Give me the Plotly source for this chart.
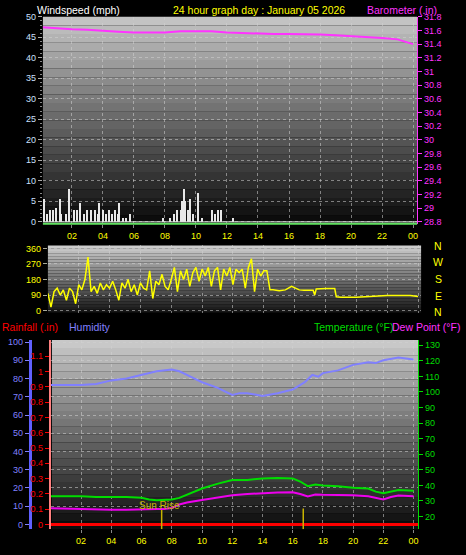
import plotly.graph_objects as go

W, H = 466, 555
def px(x): return x / W
def py(y): return 1 - y / H

hour_ticks = list(range(2, 25, 2))
hour_labels = ["02","04","06","08","10","12","14","16","18","20","22","00"]

wind_t = [0.2,0.4,0.6,0.8,1.0,1.2,1.3,1.6,1.8,2.1,2.3,2.5,2.8,3.0,3.2,3.5,3.7,3.75,4.0,4.2,4.4,4.6,4.8,5.0,5.05,5.3,5.5,5.75,7.9,8.3,8.6,8.8,9.0,9.1,9.2,9.3,9.5,9.6,9.8,10.1,10.4,11.0,11.2,11.4,11.6,12.4]
wind_v = [5.5,2,3,3,3.5,5.5,2,2,8,3,3,4.5,2,3,3,3,2,4.5,3,2,3,2,3,2,4.5,1,1,2,1,1,2,3,3,5,8,5,3,5.5,2,7,1,3,2,3,3,1]

baro_t = [0,1,2,3,4,5,6,7,7.5,8,9,10,11,12,13,14,15,16,17,18,19,20,21,22,23,23.5,24]
baro_v = [31.65,31.63,31.62,31.61,31.59,31.58,31.57,31.57,31.56,31.57,31.59,31.59,31.59,31.57,31.56,31.55,31.55,31.55,31.55,31.54,31.53,31.52,31.51,31.49,31.47,31.44,31.40]

dir_t = [0.0,0.2,0.4,0.6,0.8,1.0,1.2,1.4,1.6,1.8,2.0,2.2,2.4,2.6,2.8,3.0,3.2,3.4,3.6,3.8,4.0,4.2,4.4,4.6,4.8,5.0,5.2,5.4,5.6,5.8,6.0,6.2,6.4,6.6,6.8,7.0,7.2,7.4,7.6,7.8,8.0,8.2,8.4,8.6,8.8,9.0,9.2,9.4,9.6,9.8,10.0,10.2,10.4,10.6,10.8,11.0,11.2,11.4,11.6,11.8,12.0,12.2,12.4,12.6,12.8,13.0,13.2,13.4,13.6,13.8,14.0,14.2,14.4,14.6,15.0,15.4,15.8,16.0,16.3,16.6,17.0,17.2,17.3,17.4,18.0,18.6,18.7,19.0,20.0,20.5,21.0,22.0,23.0,23.5,24.0]
dir_v = [100,20,110,130,90,120,60,130,110,40,150,120,180,310,110,140,100,160,120,150,130,170,120,60,160,130,180,110,150,90,160,130,120,230,70,170,150,210,140,120,180,250,110,230,180,240,140,220,250,170,240,200,250,140,230,250,120,240,200,250,150,240,220,240,130,250,300,110,240,200,230,230,120,120,115,120,140,130,120,118,118,118,90,125,128,128,80,78,78,80,85,87,87,87,82]

hum_t = [0,1,2,3,4,5,6,7,8,8.5,9,10,11,12,12.5,13,14,15,16,16.8,17.3,17.7,18,19,20,21,21.5,22,23,24]
hum_v = [76.5,76.5,76.5,77,79,80,82,84,85,84,82,78,75,71,72,72,70.5,72,74,78,82,81,83,84.5,87.5,89,88.5,90,91.5,90.5]

temp_t = [0,1,2,3,4,5,6,6.5,7,8,8.5,9,10,11,12,13,14,15,16,16.5,17,17.5,18,19,20,21,21.5,22,22.5,23,24]
temp_v = [33,33,33,32.5,32.5,32.5,32,31,30.5,31,32,34,38,41,43.5,43.5,44.5,44.7,44.5,42.5,39.5,40.5,40,39.5,38.5,38,36,35,36,37,36.5]

dew_t = [0,1,2,3,4,5,6,7,7.5,8,8.5,9,10,11,11.5,12,13,14,15,16,16.5,17,17.5,18,19,20,21,22,22.5,23,24]
dew_v = [25.3,25,25,24.4,24.4,24.4,24.4,24.8,24.9,25.5,27.8,29,30.6,32,32.9,33.7,34.5,35.2,35.5,35.6,34.5,32.9,34.2,34,34,33.7,33,31,32.5,33.5,33]

rain_t = [0, 24.3]
rain_v = [0, 0]

sun_events = [7.33, 16.7]

font = "Liberation Sans, Arial, sans-serif"
fig = go.Figure()

fig.add_trace(go.Bar(x=wind_t, y=wind_v, width=0.07, marker=dict(color="#e8e8e8", line=dict(width=0)), xaxis="x", yaxis="y"))
fig.add_trace(go.Scatter(x=baro_t, y=baro_v, mode="lines", line=dict(color="#ff33ff", width=2), xaxis="x", yaxis="y2"))
fig.add_trace(go.Scatter(x=dir_t, y=dir_v, mode="lines", line=dict(color="#ffff00", width=1.5), xaxis="x2", yaxis="y3"))
fig.add_trace(go.Scatter(x=rain_t, y=rain_v, mode="lines", line=dict(color="#ff0000", width=3), xaxis="x3", yaxis="y4"))
fig.add_trace(go.Scatter(x=hum_t, y=hum_v, mode="lines", line=dict(color="#8080ff", width=2), xaxis="x3", yaxis="y5"))
fig.add_trace(go.Scatter(x=temp_t, y=temp_v, mode="lines", line=dict(color="#00dd00", width=2), xaxis="x3", yaxis="y6"))
fig.add_trace(go.Scatter(x=dew_t, y=dew_v, mode="lines", line=dict(color="#ee00ee", width=2), xaxis="x3", yaxis="y6"))
for s in sun_events:
    fig.add_trace(go.Scatter(x=[s, s], y=[-0.032, 0.105], mode="lines", line=dict(color="#c8b400", width=1.5), xaxis="x3", yaxis="y4"))

shapes = []
def gradient(x0, x1, y0, y1, top, bot, n=24):
    for i in range(n):
        f = i / n
        c = int(top + (bot - top) * f)
        shapes.append(dict(type="rect", xref="paper", yref="paper", layer="below",
                           x0=px(x0), x1=px(x1), y0=py(y0 + (y1 - y0) * (i + 1) / n), y1=py(y0 + (y1 - y0) * i / n),
                           fillcolor=f"rgb({c},{c},{c})", line=dict(width=0)))
gradient(43, 418, 12, 222, 195, 5)
gradient(48, 422, 244, 312, 205, 15)
gradient(52, 419, 340, 532, 200, 5)
shapes.append(dict(type="line", xref="paper", yref="paper", x0=px(43), x1=px(418), y0=py(222), y1=py(222), line=dict(color="#60e060", width=2)))
shapes.append(dict(type="line", xref="paper", yref="paper", x0=px(43), x1=px(418), y0=py(220), y1=py(220), line=dict(color="#e0e0e0", width=1)))

grid = dict(showgrid=True, gridcolor="rgba(210,210,210,0.55)", griddash="dot", gridwidth=1, zeroline=False)
tf = dict(family=font, size=9)
TS = 10.5

anns = [
    dict(text="Windspeed (mph)", x=px(35), y=py(5), xanchor="left", font=dict(color="white", size=TS, family=font)),
    dict(text="24 hour graph day : January 05 2026", x=px(260), y=py(5), xanchor="center", font=dict(color="yellow", size=TS, family=font)),
    dict(text="Barometer (.in)", x=px(440), y=py(5), xanchor="right", font=dict(color="#ff33ff", size=TS, family=font)),
    dict(text="Rainfall (.in)", x=px(0), y=py(327), xanchor="left", font=dict(color="red", size=TS, family=font)),
    dict(text="Humidity", x=px(67), y=py(327), xanchor="left", font=dict(color="#8080ff", size=TS, family=font)),
    dict(text="Temperature (°F)", x=px(313), y=py(327), xanchor="left", font=dict(color="#00dd00", size=TS, family=font)),
    dict(text="Dew Point (°F)", x=px(463), y=py(327), xanchor="right", font=dict(color="#ff33ff", size=TS, family=font)),
    dict(text="Sun Rise", x=px(160), y=py(508), xanchor="center", font=dict(color="#c8b400", size=10, family=font)),
]
for t, yy in zip(["N","W","S","E","N"], [245, 261, 278, 295, 311]):
    anns.append(dict(text=t, x=px(439), y=py(yy), xanchor="center", font=dict(color="yellow", size=TS, family=font)))
for a in anns:
    a.update(xref="paper", yref="paper", showarrow=False, yanchor="middle")

minor = dict(ticks="outside", ticklen=2, tickcolor="#888")

fig.update_layout(
    width=W, height=H, margin=dict(l=0, r=0, t=0, b=0),
    paper_bgcolor="black", plot_bgcolor="rgba(0,0,0,0)", showlegend=False,
    shapes=shapes, annotations=anns, bargap=0,
    xaxis=dict(domain=[px(43), px(418)], range=[0.13, 24.26], anchor="y", tickvals=hour_ticks, ticktext=hour_labels,
               tickfont=dict(color="yellow", **tf), ticks="outside", ticklen=3, tickcolor="#888", **grid),
    yaxis=dict(domain=[py(222), py(12)], range=[-0.5, 50], dtick=5, tickfont=dict(color="#cce0ff", **tf),
               ticks="outside", ticklen=4, tickcolor="#aaa", minor=dict(dtick=1, **minor), **grid),
    yaxis2=dict(overlaying="y", side="right", anchor="x", range=[28.771, 31.8], dtick=0.2, tickfont=dict(color="#ff33ff", **tf),
                ticks="outside", ticklen=4, tickcolor="#ff33ff", showgrid=False, zeroline=False, showline=True, linecolor="#ff33ff"),
    xaxis2=dict(domain=[px(48), px(422)], range=[0, 24.2], anchor="y3", tickvals=hour_ticks, showticklabels=False, **grid),
    yaxis3=dict(domain=[py(312), py(244)], range=[-11, 377], tickvals=[0, 90, 180, 270, 360], tickfont=dict(color="yellow", **tf),
                ticks="outside", ticklen=4, tickcolor="#aa9", anchor="x2", **grid),
    xaxis3=dict(domain=[px(51), px(419)], range=[0, 24.3], anchor="y4", tickvals=hour_ticks, ticktext=hour_labels,
                tickfont=dict(color="yellow", **tf), ticks="outside", ticklen=3, tickcolor="#888", **grid),
    yaxis4=dict(domain=[py(532), py(340)], range=[-0.032, 1.206], anchor="x3", tickfont=dict(color="red", **tf),
                tickvals=[0,0.1,0.2,0.3,0.4,0.5,0.6,0.7,0.8,0.9,1,1.1],
                ticktext=["0","0.1","0.2","0.3","0.4","0.5","0.6","0.7","0.8","0.9","1","1.1"],
                ticks="outside", ticklen=4, tickcolor="red", showline=True, linecolor="#ff8080", linewidth=2, showgrid=False, zeroline=False),
    yaxis5=dict(overlaying="y4", anchor="free", position=px(30), side="left", range=[-2.7, 101.1], dtick=10,
                tickfont=dict(color="#8080ff", **tf), ticks="outside", ticklen=4, tickcolor="#8080ff",
                showline=True, linecolor="#6060ff", linewidth=3, **grid),
    yaxis6=dict(overlaying="y4", side="right", anchor="x3", range=[11.8, 133.3], tickvals=list(range(20, 131, 10)),
                tickfont=dict(color="#00dd00", **tf), ticks="outside", ticklen=4, tickcolor="#00dd00",
                showline=True, linecolor="#00dd00", showgrid=False, zeroline=False),
)
fig.write_html("out.html", config={"displayModeBar": False},
               post_script="document.body.style.margin='0';document.body.style.overflow='hidden';")
